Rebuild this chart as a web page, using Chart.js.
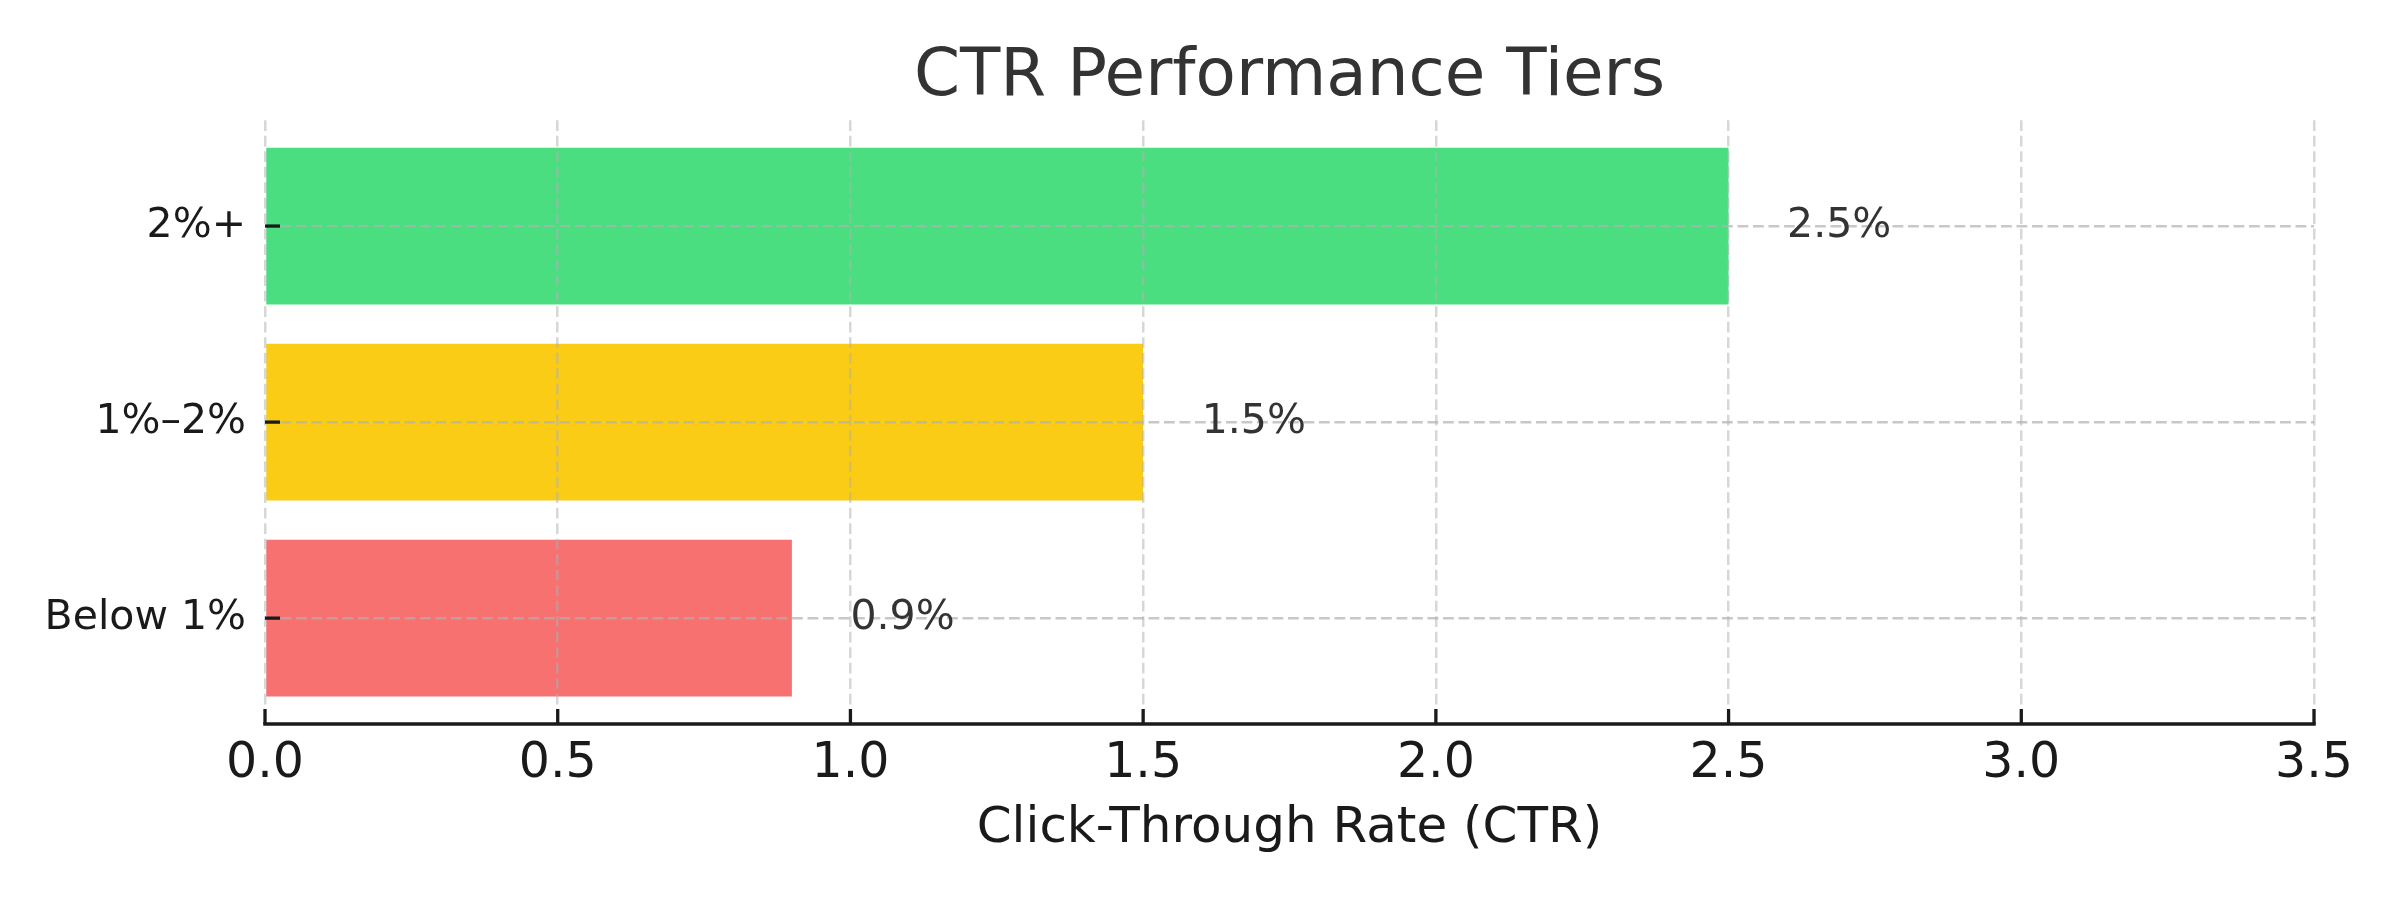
<!DOCTYPE html>
<html>
<head>
<meta charset="utf-8">
<script src="https://cdn.jsdelivr.net/npm/chart.js@4/dist/chart.umd.min.js"></script>
<style>
  html, body { margin: 0; padding: 0; background: #ffffff; }
  #wrap { width: 2400px; height: 900px; }
</style>
</head>
<body>
<div id="wrap"><canvas id="c" width="2400" height="900"></canvas></div>
<script>
// ---- data ----
const categories = ['Below 1%', '1%–2%', '2%+'];
const ctrValues = [0.9, 1.5, 2.5];
const barColors = ['#F87171', '#FACC15', '#4ADE80'];
const valueLabels = ['0.9%', '1.5%', '2.5%'];
const xTickValues = [0, 0.5, 1.0, 1.5, 2.0, 2.5, 3.0, 3.5];
const chartTitle = 'CTR Performance Tiers';
const xAxisTitle = 'Click-Through Rate (CTR)';

const FONT = "'DejaVu Sans', 'Liberation Sans', sans-serif";

const axesDecor = {
  id: 'axesDecor',
  afterDraw(chart) {
    const ctx = chart.ctx;
    const xs = chart.scales.x, ys = chart.scales.y;
    const area = chart.chartArea;
    ctx.save();
    ctx.strokeStyle = '#1a1a1a';
    ctx.lineWidth = 3.3;
    // inward ticks
    xTickValues.forEach(v => {
      const px = xs.getPixelForValue(v);
      ctx.beginPath();
      ctx.moveTo(px, area.bottom);
      ctx.lineTo(px, area.bottom - 15);
      ctx.stroke();
    });
    categories.forEach((c, i) => {
      const py = ys.getPixelForValue(i);
      ctx.beginPath();
      ctx.moveTo(area.left, py);
      ctx.lineTo(area.left + 15, py);
      ctx.stroke();
    });
    // bottom spine
    ctx.lineWidth = 3.5;
    ctx.lineCap = 'square';
    ctx.beginPath();
    ctx.moveTo(area.left, area.bottom);
    ctx.lineTo(area.right, area.bottom);
    ctx.stroke();
    ctx.restore();
  }
};

const valueText = {
  id: 'valueText',
  afterDraw(chart) {
    const ctx = chart.ctx;
    const xs = chart.scales.x, ys = chart.scales.y;
    ctx.save();
    ctx.font = '41px ' + FONT;
    ctx.fillStyle = '#333333';
    ctx.textAlign = 'left';
    ctx.textBaseline = 'middle';
    ctrValues.forEach((v, i) => {
      ctx.fillText(valueLabels[i], xs.getPixelForValue(v + 0.1), ys.getPixelForValue(i));
    });
    ctx.restore();
  }
};

new Chart(document.getElementById('c'), {
  type: 'bar',
  data: {
    datasets: [{
      data: ctrValues.map((v, i) => ({ x: v, y: i })),
      backgroundColor: barColors,
      borderWidth: 0,
      barPercentage: 0.8,
      categoryPercentage: 1.0
    }]
  },
  options: {
    indexAxis: 'y',
    responsive: false,
    animation: false,
    devicePixelRatio: 1,
    layout: { padding: { left: 0, right: 86, top: 0, bottom: 0 } },
    plugins: {
      legend: { display: false },
      tooltip: { enabled: false },
      title: {
        display: true,
        fullSize: false,
        text: chartTitle,
        color: '#333333',
        font: { family: FONT, size: 66, weight: 'normal', lineHeight: 1.2 },
        padding: { top: 38, bottom: 3 }
      }
    },
    scales: {
      x: {
        type: 'linear',
        min: 0,
        max: 3.5,
        afterFit: s => { s.height = 176; },
        afterBuildTicks: s => { s.ticks = xTickValues.map(v => ({ value: v })); },
        ticks: {
          color: '#1a1a1a',
          font: { family: FONT, size: 49 },
          padding: 11,
          maxRotation: 0,
          callback: v => Number(v).toFixed(1)
        },
        grid: {
          z: 1,
          color: 'rgba(176,176,176,0.5)',
          lineWidth: 2.5,
          drawTicks: false,
          tickLength: 0
        },
        border: { display: false, dash: [10.8, 4.7] },
        title: {
          display: true,
          text: xAxisTitle,
          color: '#1a1a1a',
          font: { family: FONT, size: 50 },
          padding: { top: 0, bottom: 41 }
        }
      },
      y: {
        type: 'linear',
        min: -0.54,
        max: 2.54,
        offset: false,
        afterFit: s => { s.width = 265; },
        afterBuildTicks: s => { s.ticks = categories.map((c, i) => ({ value: i })); },
        ticks: {
          color: '#1a1a1a',
          font: { family: FONT, size: 41 },
          padding: 19,
          callback: v => categories[v]
        },
        grid: {
          z: 1,
          offset: false,
          color: 'rgba(176,176,176,0.7)',
          lineWidth: 2.5,
          drawTicks: false,
          tickLength: 0
        },
        border: { display: false, dash: [10.8, 4.7] }
      }
    }
  },
  plugins: [axesDecor, valueText]
});
</script>
</body>
</html>
